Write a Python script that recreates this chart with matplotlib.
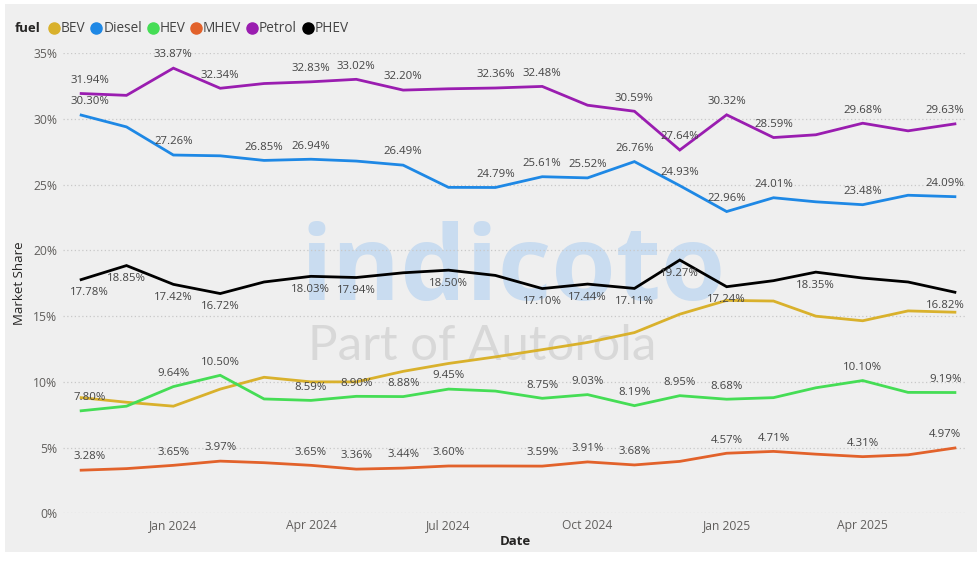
import matplotlib
matplotlib.use("Agg")
import matplotlib.pyplot as plt
from matplotlib.lines import Line2D
from matplotlib.patches import Rectangle
import datetime as dt

plt.rcParams['font.family'] = ['Open Sans', 'DejaVu Sans']

# ---------------- data ----------------
months = ["2023-11", "2023-12", "2024-01", "2024-02", "2024-03", "2024-04", "2024-05",
          "2024-06", "2024-07", "2024-08", "2024-09", "2024-10", "2024-11", "2024-12",
          "2025-01", "2025-02", "2025-03", "2025-04", "2025-05", "2025-06"]

fuels = ["BEV", "Diesel", "HEV", "MHEV", "Petrol", "PHEV"]

bev = [8.80, 8.45, 8.15, 9.45, 10.35, 10.00, 10.00, 10.80, 11.40, 11.90,
       12.45, 13.00, 13.75, 15.15, 16.20, 16.15, 15.00, 14.65, 15.40, 15.30]
diesel = [30.30, 29.40, 27.26, 27.20, 26.85, 26.94, 26.80, 26.49, 24.80, 24.79,
          25.61, 25.52, 26.76, 24.93, 22.96, 24.01, 23.70, 23.48, 24.20, 24.09]
hev = [7.80, 8.15, 9.64, 10.50, 8.70, 8.59, 8.90, 8.88, 9.45, 9.30,
       8.75, 9.03, 8.19, 8.95, 8.68, 8.80, 9.55, 10.10, 9.20, 9.19]
mhev = [3.28, 3.40, 3.65, 3.97, 3.85, 3.65, 3.36, 3.44, 3.60, 3.60,
        3.59, 3.91, 3.68, 3.95, 4.57, 4.71, 4.50, 4.31, 4.45, 4.97]
petrol = [31.94, 31.80, 33.87, 32.34, 32.70, 32.83, 33.02, 32.20, 32.30, 32.36,
          32.48, 31.05, 30.59, 27.64, 30.32, 28.59, 28.80, 29.68, 29.10, 29.63]
phev = [17.78, 18.85, 17.42, 16.72, 17.60, 18.03, 17.94, 18.30, 18.50, 18.10,
        17.10, 17.44, 17.11, 19.27, 17.24, 17.70, 18.35, 17.90, 17.60, 16.82]

# which months carry a data label
labeled_bev = []
labeled_diesel = [0, 2, 4, 5, 7, 9, 10, 11, 12, 13, 14, 15, 17, 19]
labeled_hev = [0, 2, 3, 5, 6, 7, 8, 10, 11, 12, 13, 14, 17, 19]
labeled_mhev = [0, 2, 3, 5, 6, 7, 8, 10, 11, 12, 14, 15, 17, 19]
labeled_petrol = [0, 2, 3, 5, 6, 7, 9, 10, 12, 13, 14, 15, 17, 19]
labeled_phev = [0, 1, 2, 3, 5, 6, 8, 10, 11, 12, 13, 14, 16, 19]

tick_dates = ["2024-01", "2024-04", "2024-07", "2024-10", "2025-01", "2025-04"]
tick_labels = ["Jan 2024", "Apr 2024", "Jul 2024", "Oct 2024", "Jan 2025", "Apr 2025"]
y_ticks = [0, 5, 10, 15, 20, 25, 30, 35]
y_tick_labels = ["0%", "5%", "10%", "15%", "20%", "25%", "30%", "35%"]

colors = {"BEV": "#d9b12c", "Diesel": "#1e88e5", "HEV": "#45dd55",
          "MHEV": "#e2622b", "Petrol": "#9a1db0", "PHEV": "#000000"}

series = {"BEV": (bev, labeled_bev, 1), "Diesel": (diesel, labeled_diesel, 1),
          "HEV": (hev, labeled_hev, 1), "MHEV": (mhev, labeled_mhev, 1),
          "Petrol": (petrol, labeled_petrol, 1), "PHEV": (phev, labeled_phev, -1)}

def to_date(s):
    y, m = s.split("-")
    return dt.date(int(y), int(m), 1)

x = [to_date(m) for m in months]

# ---------------- figure ----------------
fig = plt.figure(figsize=(9.8, 5.63), dpi=100, facecolor="white")
fig.patches.append(Rectangle((0.005, 0.0195), 0.992, 0.9735, transform=fig.transFigure,
                             facecolor="#efefef", edgecolor="none", zorder=-3))

# watermark
fig.text(300 / 980, (563 - 300) / 563, "indicoto", fontsize=75, fontweight="bold",
         color="#c9dcf0", ha="left", va="baseline", zorder=-1)
fig.text(308 / 980, (563 - 360) / 563, "Part of Autorola", fontsize=35.5,
         family=["Lato", "Open Sans"], fontweight="normal",
         color="#d8d8d8", ha="left", va="baseline", zorder=-1)

ax = fig.add_axes([63 / 980, (563 - 513.3) / 563, 904 / 980, 460 / 563])
ax.set_facecolor("none")

for name in fuels:
    vals, lab_idx, side = series[name]
    ax.plot(x, vals, color=colors[name], lw=2.0, solid_joinstyle="miter", zorder=3)
    for i in lab_idx:
        dx = 0
        if i == 0:
            dx = 6
        elif i == len(vals) - 1:
            dx = -7
        ax.annotate(f"{vals[i]:.2f}%", (x[i], vals[i]), xytext=(dx, 9.5 * side),
                    textcoords="offset points", ha="center", va="center",
                    fontsize=8.2, color="#444444", zorder=4)

ax.set_xlim(dt.date(2023, 10, 20), dt.date(2025, 6, 9))
ax.set_ylim(0, 35)
ax.set_xticks([to_date(t) for t in tick_dates])
ax.set_xticklabels(tick_labels)
ax.set_yticks(y_ticks)
ax.set_yticklabels(y_tick_labels)
ax.tick_params(axis="both", length=0, labelsize=8.7, labelcolor="#605e5c")
ax.tick_params(axis="x", pad=4)
ax.tick_params(axis="y", pad=4)
for s in ax.spines.values():
    s.set_visible(False)
ax.grid(axis="y", color="#c8c8c8", linestyle=(0, (1, 2)), linewidth=0.9)
ax.set_axisbelow(True)

ax.set_xlabel("Date", fontsize=9.5, fontweight="bold", color="#252423", labelpad=2)
ax.set_ylabel("Market Share", fontsize=9.5, color="#252423", labelpad=5)

# legend
fig.text(15 / 980, (563 - 29) / 563, "fuel", fontsize=9.5, fontweight="bold",
         color="#252423", ha="left", va="center")
handles = [Line2D([], [], marker="o", linestyle="none", markersize=8,
                  markerfacecolor=colors[n], markeredgecolor=colors[n]) for n in fuels]
fig.legend(handles, fuels, loc="center left", bbox_to_anchor=(50 / 980, (563 - 29) / 563),
           ncol=6, frameon=False, handlelength=0.6, handletextpad=0.2,
           columnspacing=0.5, fontsize=9.8, labelcolor="#444444", borderpad=0,
           borderaxespad=0)

fig.savefig("out.png", dpi=100, facecolor=fig.get_facecolor())
